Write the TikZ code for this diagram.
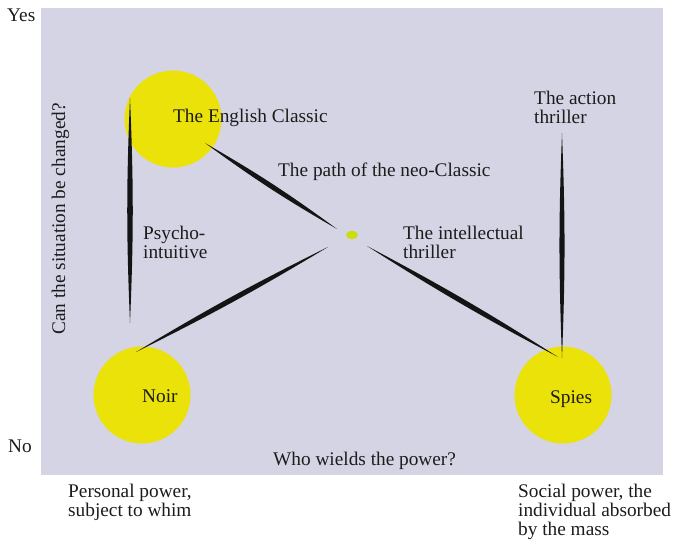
\documentclass[tikz,border=0pt]{standalone}
\usepackage{fontspec}
\setmainfont{Liberation Serif}
\usetikzlibrary{shapes.geometric}
\definecolor{grback}{RGB}{212,212,228}
\definecolor{gryellow}{RGB}{234,226,8}
\definecolor{grdot}{RGB}{204,222,10}
\definecolor{grink}{RGB}{28,28,28}
\tikzset{
  gr circle/.style={circle,fill=gryellow,minimum size=97bp,inner sep=0pt},
  gr spindle/.style={fill=black!92},
  gr label/.style={anchor=base west,inner sep=0pt,text=grink,align=left,
    font=\fontsize{19.3bp}{19bp}\selectfont}
}

\begin{document}
\begin{tikzpicture}[x=1bp,y=-1bp]
  \useasboundingbox (0,0) rectangle (675,541);
  \fill[grback] (41,8) rectangle (663,475);
  % the three genres and the meeting point
  \node[gr circle] (eng) at (173,119) {};
  \node[gr circle] (noir) at (142,395) {};
  \node[gr circle] (spies) at (563,395) {};
  \node[ellipse,fill=grdot,minimum width=12bp,minimum height=8bp,inner sep=0pt] (mid) at (352,235) {};
  % ends of the spindles
  \coordinate (psy top) at (130,98);
  \coordinate (psy bot) at (130,323);
  \coordinate (act top) at (562,133);
  \coordinate (act bot) at (562,358);
  \coordinate (neo a) at (205,143);
  \coordinate (neo b) at (337,229);
  \coordinate (noir a) at (136,352);
  \coordinate (noir b) at (328,247);
  \coordinate (int a) at (367,246);
  \coordinate (int b) at (558,357);
  \fill[gr spindle] (psy top) to[bend left=2.4] (psy bot) to[bend left=2.4] (psy top);
  \fill[gr spindle] (act top) to[bend left=2.2] (act bot) to[bend left=2.2] (act top);
  \fill[gr spindle] (neo a) to[bend left=3.1] (neo b) to[bend left=3.1] (neo a);
  \fill[gr spindle] (noir a) to[bend left=2.3] (noir b) to[bend left=2.3] (noir a);
  \fill[gr spindle] (int a) to[bend left=2.3] (int b) to[bend left=2.3] (int a);
  % labels (multi-line ones sit on the baseline of their last line)
  \node[gr label] (yes) at (7,22) {Yes};
  \node[gr label] (no) at (8,452) {No};
  \node[gr label,rotate=90,anchor=base] (axis y) at (65,219) {Can the situation be changed?};
  \node[gr label] (lab eng) at (173,123) {The English Classic};
  \node[gr label] (lab neo) at (278,177) {The path of the neo-Classic};
  \node[gr label] (lab psy) at (143,259) {Psycho-\\intuitive};
  \node[gr label] (lab int) at (403,259) {The intellectual\\thriller};
  \node[gr label] (lab act) at (534,124) {The action\\thriller};
  \node[gr label] (lab noir) at (142,402) {Noir};
  \node[gr label] (lab spies) at (550,403) {Spies};
  \node[gr label] (axis x) at (273,465) {Who wields the power?};
  \node[gr label] (lab pers) at (68,516) {Personal power,\\subject to whim};
  \node[gr label] (lab soc) at (518,535) {Social power, the\\individual absorbed\\by the mass};
\end{tikzpicture}
\end{document}
